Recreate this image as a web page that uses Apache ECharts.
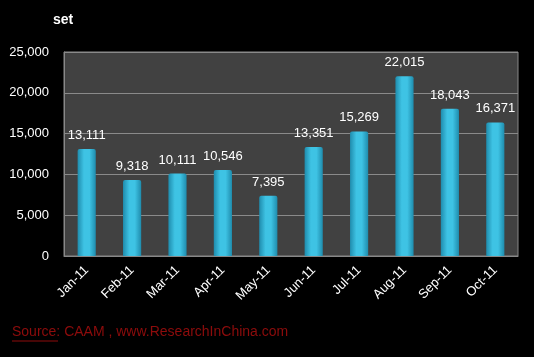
<!DOCTYPE html>
<html><head><meta charset="utf-8">
<script src="https://cdn.jsdelivr.net/npm/echarts@6/dist/echarts.min.js"></script>
<style>html,body{margin:0;padding:0;background:#000;}#c{width:534px;height:357px;}</style>
</head><body><div id="c"></div>
<script>
const categories = ['Jan-11','Feb-11','Mar-11','Apr-11','May-11','Jun-11','Jul-11','Aug-11','Sep-11','Oct-11'];
const values = [13111, 9318, 10111, 10546, 7395, 13351, 15269, 22015, 18043, 16371];
const unitLabel = 'set';
const sourceText = 'Source: CAAM , www.ResearchInChina.com';

const chart = echarts.init(document.getElementById('c'));
chart.setOption({
  backgroundColor: '#000',
  animation: false,
  grid: {left: 64, right: 16, top: 52, bottom: 101, show: true, backgroundColor: '#414141', borderColor: '#888', borderWidth: 1},
  xAxis: {
    type: 'category', data: categories,
    axisLine: {show: true, lineStyle: {color: '#888', width: 1}},
    axisTick: {show: false},
    axisLabel: {color: '#fff', rotate: 45, fontSize: 13, fontFamily: 'Liberation Sans, Arial', margin: 12}
  },
  yAxis: {
    type: 'value', min: 0, max: 25000, interval: 5000,
    axisLine: {show: true, lineStyle: {color: '#888'}},
    axisTick: {show: false},
    splitLine: {lineStyle: {color: '#8a8a8a', width: 1}},
    axisLabel: {color: '#fff', fontSize: 13, fontFamily: 'Liberation Sans, Arial', margin: 15,
      formatter: v => v.toLocaleString('en-US')}
  },
  series: [{
    type: 'bar', data: values, barWidth: '40%',
    itemStyle: {
      color: new echarts.graphic.LinearGradient(0, 0, 1, 0, [
        {offset: 0, color: '#1f8cad'},
        {offset: 0.35, color: '#3ec3e4'},
        {offset: 0.65, color: '#3ec3e4'},
        {offset: 1, color: '#1f8cad'}
      ]),
      borderRadius: [2, 2, 0, 0]
    },
    label: {show: true, position: 'top', distance: 7, color: '#fff', fontSize: 13, fontFamily: 'Liberation Sans, Arial',
      formatter: p => p.value.toLocaleString('en-US')}
  }],
  graphic: [
    {type: 'text', left: 53, top: 13, style: {text: unitLabel, fill: '#fff', font: 'bold 14px Liberation Sans, Arial'}},
    {type: 'text', left: 12, top: 325, style: {text: sourceText, fill: '#8e0c0c', font: '14px Liberation Sans, Arial'}},
    {type: 'line', shape: {x1: 12, y1: 341, x2: 58, y2: 341}, style: {stroke: '#8e0c0c', lineWidth: 1}}
  ]
});
</script></body></html>
